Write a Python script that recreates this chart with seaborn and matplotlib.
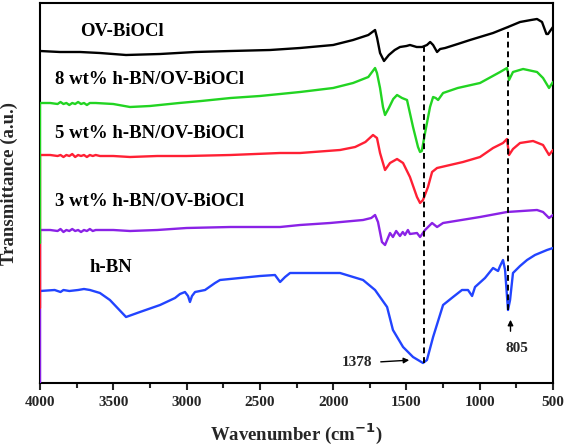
import matplotlib
matplotlib.use("Agg")
import matplotlib.pyplot as plt
import seaborn as sns
import numpy as np
from matplotlib.ticker import MultipleLocator

# ---------------- data (wavenumber cm-1, transmittance a.u.) ----------------
bn_wn = [4000, 3900, 3860, 3840, 3800, 3740, 3700, 3659, 3591, 3523, 3413, 3318, 3181, 3079, 3045,
         3011, 2990, 2977, 2963, 2942, 2874, 2806, 2772, 2499, 2397, 2362, 2328, 2294, 1953, 1796,
         1714, 1632, 1592, 1523, 1455, 1387, 1360, 1318, 1250, 1182, 1121, 1080, 1052, 1032, 964,
         909, 875, 861, 841, 827, 807, 793, 773, 725, 677, 623, 541, 500]
bn_t = [92, 93, 91, 93, 92, 93, 94, 93, 90, 83, 66, 71, 78, 85, 89,
        91, 87, 81, 87, 91, 93, 100, 103, 107, 108, 101, 106, 110, 110, 103,
        93, 76, 53, 36, 26, 20, 23, 46, 78, 86, 93, 93, 87, 96, 105,
        115, 112, 117, 123, 113, 73, 83, 110, 117, 123, 128, 133, 135]

w3_wn = [4000, 4000, 3930, 3880, 3860, 3840, 3820, 3800, 3780, 3760, 3740, 3720, 3700, 3680, 3660,
         3640, 3620, 3591, 3500, 3386, 3200, 3000, 2700, 2362, 2226, 2021, 1796, 1740, 1714, 1694,
         1667, 1646, 1612, 1592, 1570, 1544, 1525, 1510, 1490, 1476, 1428, 1407, 1373, 1325, 1291,
         1250, 998, 814, 609, 568, 527, 500]
w3_t = [0, 153, 153, 152, 154, 151, 153, 152, 154, 152, 153, 151, 153, 152, 154,
        152, 153, 153, 153, 152, 153, 155, 156, 156, 158, 160, 163, 165, 168, 161,
        141, 138, 150, 146, 152, 147, 151, 148, 153, 149, 150, 146, 153, 160, 156,
        160, 166, 171, 173, 171, 165, 168]

w5_wn = [4000, 4000, 3930, 3880, 3860, 3840, 3820, 3800, 3780, 3760, 3740, 3720, 3700, 3680, 3660,
         3640, 3620, 3591, 3500, 3386, 3200, 3000, 2700, 2362, 2226, 1953, 1850, 1780, 1728, 1701,
         1680, 1646, 1612, 1564, 1523, 1476, 1428, 1407, 1387, 1353, 1325, 1291, 1114, 998, 909,
         841, 814, 800, 773, 725, 636, 568, 527, 500]
w5_t = [75, 228, 228, 227, 228, 226, 228, 227, 229, 226, 228, 227, 228, 226, 228,
        227, 228, 227, 227, 226, 227, 227, 228, 230, 230, 233, 236, 241, 248, 245,
        230, 213, 220, 224, 220, 206, 186, 180, 183, 196, 211, 215, 221, 226, 235,
        240, 244, 228, 234, 240, 242, 238, 228, 233]

w8_wn = [4000, 4000, 3930, 3880, 3860, 3840, 3820, 3800, 3780, 3760, 3740, 3720, 3700, 3680, 3660,
         3620, 3500, 3386, 3250, 3050, 2900, 2700, 2500, 2362, 2226, 2000, 1864, 1760, 1714, 1701,
         1680, 1660, 1646, 1620, 1590, 1564, 1530, 1496, 1455, 1421, 1407, 1395, 1373, 1339, 1318,
         1300, 1284, 1250, 1150, 998, 861, 814, 807, 800, 773, 704, 609, 568, 527, 500]
w8_t = [140, 280, 280, 279, 281, 279, 280, 278, 280, 279, 281, 279, 280, 278, 280,
        280, 279, 276, 277, 280, 282, 285, 287, 289, 291, 295, 300, 306, 315, 310,
        295, 276, 268, 275, 284, 288, 285, 283, 256, 236, 231, 232, 250, 276, 286,
        285, 283, 290, 295, 300, 311, 315, 310, 303, 311, 314, 311, 305, 295, 301]

ov_wn = [4000, 3864, 3727, 3591, 3413, 3181, 2942, 2700, 2430, 2226, 2000, 1864, 1760, 1714, 1700,
         1680, 1653, 1620, 1580, 1544, 1500, 1476, 1430, 1393, 1360, 1338, 1318, 1291, 1270, 1236,
         1150, 1066, 909, 807, 725, 650, 609, 575, 545, 534, 515, 500]
ov_t = [332, 331, 331, 330, 328, 329, 331, 332, 333, 335, 338, 343, 348, 353, 345,
        330, 322, 328, 333, 336, 337, 338, 336, 336, 338, 341, 338, 331, 334, 335,
        339, 343, 350, 356, 361, 363, 364, 361, 349, 349, 353, 356]

series_names = ["h-BN", "3 wt% h-BN/OV-BiOCl", "5 wt% h-BN/OV-BiOCl",
                "8 wt% h-BN/OV-BiOCl", "OV-BiOCl"]
series_wn = [bn_wn, w3_wn, w5_wn, w8_wn, ov_wn]
series_t = [bn_t, w3_t, w5_t, w8_t, ov_t]
colors = ["#2244ff", "#8a22e6", "#ff2034", "#22d422", "#000000"]

label_wn = [3659, 3898, 3898, 3898, 3727]
label_t = [115, 182, 250, 303, 351]

peak_wn = [1378, 805]
peak_top = [336, 356]
peak_bottom = [20, 73]

# ---------------- plot ----------------
sns.set_theme(style="ticks")
plt.rcParams["font.family"] = ["Liberation Serif", "DejaVu Serif"]
plt.rcParams["font.weight"] = "bold"

fig = plt.figure(figsize=(5.67, 4.46), dpi=100)
ax = fig.add_axes([40 / 567, 1 - 383 / 446, 513 / 567, 380 / 446])

for name, wn, t, c in zip(series_names, series_wn, series_t, colors):
    sns.lineplot(x=wn, y=t, ax=ax, color=c, linewidth=1.7, sort=False,
                 estimator=None, zorder=3)

for name, x, y in zip(series_names, label_wn, label_t):
    ax.text(x, y, name, fontsize=13.5, fontweight="bold", ha="left", va="center",
            color="black")

for x, y0, y1 in zip(peak_wn, peak_bottom, peak_top):
    ax.plot([x, x], [y0, y1], color="black", linestyle=(0, (3, 2)), linewidth=1.4,
            zorder=4)

ax.annotate("", xy=(1462, 23), xytext=(1694, 21),
            arrowprops=dict(arrowstyle="-|>", color="black", lw=1.0,
                            mutation_scale=8))
ax.text(1837, 21, str(peak_wn[0]), fontsize=11, fontweight="bold",
        ha="center", va="center")
ax.annotate("", xy=(790, 66), xytext=(790, 49),
            arrowprops=dict(arrowstyle="-|>", color="black", lw=1.0,
                            mutation_scale=8))
ax.text(745, 35, str(peak_wn[1]), fontsize=11, fontweight="bold",
        ha="center", va="center")

ax.set_xlim(4000, 500)
ax.set_ylim(0, 380)
ax.xaxis.set_major_locator(MultipleLocator(500))
ax.xaxis.set_minor_locator(MultipleLocator(250))
ax.tick_params(axis="x", which="major", direction="out", length=5, width=1.5,
               labelsize=11, pad=4)
ax.tick_params(axis="x", which="minor", direction="out", length=3.5, width=1.5)
ax.set_yticks([])
for lab in ax.get_xticklabels():
    lab.set_fontweight("bold")
for sp in ax.spines.values():
    sp.set_visible(True)
    sp.set_linewidth(1.5)
    sp.set_color("black")

ax.set_xlabel("Wavenumber (cm$^{\\mathbf{-1}}$)", fontsize=13.5, fontweight="bold",
              labelpad=9)
ax.set_ylabel("Transmittance (a.u.)", fontsize=13.5, fontweight="bold")
ax.yaxis.set_label_coords(-0.043, 0.526)

fig.savefig("out.png", dpi=100)
